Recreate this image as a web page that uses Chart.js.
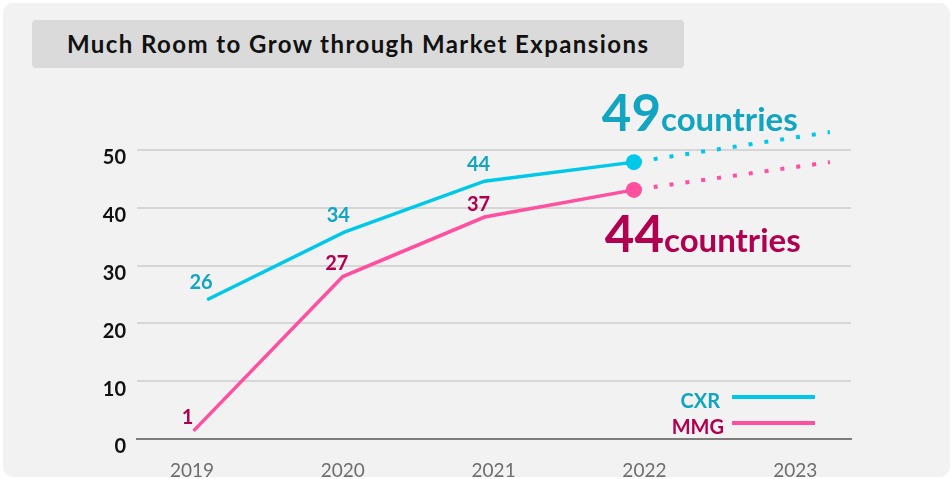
<!DOCTYPE html>
<html>
<head>
<meta charset="utf-8">
<script src="https://cdn.jsdelivr.net/npm/chart.js@4.4.1/dist/chart.umd.min.js"></script>
<style>
  html, body { margin: 0; padding: 0; background: #fff; }
  body { width: 952px; height: 479px; position: relative; overflow: hidden; font-family: Lato, "Open Sans", sans-serif; }
  #panel { position: absolute; left: 3px; top: 3px; width: 947px; height: 474px; background: #f2f2f2; border-radius: 10px; }
  #title { position: absolute; left: 32px; top: 20px; width: 652px; height: 48px; background: #dadada; border-radius: 4px;
           box-sizing: border-box; padding-left: 35px; line-height: 48px; font-weight: bold; font-size: 24px;
           letter-spacing: 1.42px; color: #111; white-space: nowrap; }
  #wrap { position: absolute; left: 0; top: 0; width: 952px; height: 479px; }
</style>
</head>
<body>
<div id="panel"></div>
<div id="title">Much Room to Grow through Market Expansions</div>
<div id="wrap"><canvas id="chart" width="952" height="479"></canvas></div>
<script>
// data
const years = [2019, 2020, 2021, 2022, 2023];
const cxrX = [2019.1, 2020.01, 2020.94, 2021.93];
const cxrY = [24.1, 35.8, 44.6, 47.9];
const mmgX = [2019.01, 2020.0, 2020.94, 2021.93];
const mmgY = [1.4, 28.1, 38.4, 43.1];
const cxrLabels = [26, 34, 44];
const mmgLabels = [1, 27, 37];
const projX = [2021.93, 2023.23];
const cxrProj = [47.9, 53.1];
const mmgProj = [43.1, 47.9];
const cxrTotal = 49;
const mmgTotal = 44;

const CXR_LINE = "#00c8e8";
const CXR_TEXT = "#12a5c1";
const MMG_LINE = "#ff4f9f";
const MMG_TEXT = "#b1004f";
const FONT = "Lato, 'Open Sans', sans-serif";

const toPoints = (xs, ys) => xs.map((x, i) => ({ x, y: ys[i] }));
const lastDot = (ctx) => (ctx.dataIndex === ctx.dataset.data.length - 1 ? 8 : 0);

// value labels above the points + the big "countries" notes + legend
const notesPlugin = {
    id: "notes",
    afterDatasetsDraw(chart) {
        const ctx = chart.ctx;
        const area = chart.chartArea;
        ctx.save();
        ctx.textAlign = "center";
        ctx.textBaseline = "middle";
        ctx.font = "bold 20px " + FONT;
        [[0, cxrLabels, CXR_TEXT, -17], [1, mmgLabels, MMG_TEXT, -13]].forEach(([idx, labels, color, dy]) => {
            const pts = chart.getDatasetMeta(idx).data;
            ctx.fillStyle = color;
            labels.forEach((lab, i) => {
                ctx.fillText(String(lab), pts[i].x - 6, pts[i].y + dy);
            });
        });

        const drawTotal = (num, x, y, color) => {
            ctx.textAlign = "left";
            ctx.textBaseline = "alphabetic";
            ctx.fillStyle = color;
            ctx.font = "bold 51px " + FONT;
            ctx.fillText(String(num), x, y);
            const w = ctx.measureText(String(num)).width;
            ctx.font = "bold 33px " + FONT;
            ctx.fillText("countries", x + w, y);
        };
        const cxrEnd = chart.getDatasetMeta(0).data[cxrX.length - 1];
        const mmgEnd = chart.getDatasetMeta(1).data[mmgX.length - 1];
        drawTotal(cxrTotal, cxrEnd.x - 32, cxrEnd.y - 31, CXR_TEXT);
        drawTotal(mmgTotal, mmgEnd.x - 29, mmgEnd.y + 62, MMG_TEXT);

        // legend
        ctx.font = "bold 20px " + FONT;
        ctx.textAlign = "right";
        ctx.textBaseline = "middle";
        ctx.lineWidth = 4;
        [["CXR", CXR_TEXT, CXR_LINE, area.bottom - 42, 0], ["MMG", MMG_TEXT, MMG_LINE, area.bottom - 16, 4]].forEach(
            ([name, tcol, lcol, ly, shift]) => {
                ctx.fillStyle = tcol;
                ctx.fillText(name, area.right - 131 + shift, ly + 5);
                ctx.strokeStyle = lcol;
                ctx.beginPath();
                ctx.moveTo(area.right - 119, ly);
                ctx.lineTo(area.right - 36, ly);
                ctx.stroke();
            }
        );
        ctx.restore();
    },
};

new Chart(document.getElementById("chart"), {
    type: "line",
    data: {
        datasets: [
            {
                label: "CXR",
                data: toPoints(cxrX, cxrY),
                borderColor: CXR_LINE,
                backgroundColor: CXR_LINE,
                borderWidth: 3.5,
                pointRadius: lastDot,
                pointBorderWidth: 0,
                tension: 0,
                clip: false,
                order: 1,
            },
            {
                label: "MMG",
                data: toPoints(mmgX, mmgY),
                borderColor: MMG_LINE,
                backgroundColor: MMG_LINE,
                borderWidth: 3.5,
                pointRadius: lastDot,
                pointBorderWidth: 0,
                tension: 0,
                clip: false,
                order: 1,
            },
            {
                label: "CXR outlook",
                data: toPoints(projX, cxrProj),
                borderColor: CXR_LINE,
                borderWidth: 4,
                borderDash: [4, 12],
                borderDashOffset: -4,
                borderCapStyle: "butt",
                pointRadius: 0,
                clip: false,
                order: 2,
            },
            {
                label: "MMG outlook",
                data: toPoints(projX, mmgProj),
                borderColor: MMG_LINE,
                borderWidth: 4,
                borderDash: [4, 12],
                borderDashOffset: -4,
                borderCapStyle: "butt",
                pointRadius: 0,
                clip: false,
                order: 2,
            },
        ],
    },
    options: {
        responsive: false,
        animation: false,
        layout: { padding: { top: 150, right: 101, left: 0, bottom: 0 } },
        plugins: {
            legend: { display: false },
            tooltip: { enabled: false },
        },
        scales: {
            x: {
                type: "linear",
                min: 2018.635,
                max: 2023.37,
                afterBuildTicks: (scale) => {
                    scale.ticks = years.map((v) => ({ value: v }));
                },
                afterFit: (scale) => {
                    scale.height = 40;
                },
                grid: { display: false },
                border: { display: true, color: "#7d7d7d", width: 2 },
                ticks: {
                    autoSkip: false,
                    maxRotation: 0,
                    padding: 12,
                    color: "#6e6e6e",
                    font: { family: FONT, size: 19 },
                    callback: (v) => String(v),
                },
            },
            y: {
                min: 0,
                max: 50,
                afterFit: (scale) => {
                    scale.width = 137;
                },
                grid: { color: "#d6d6d6", lineWidth: 2, drawTicks: false },
                border: { display: false },
                ticks: {
                    stepSize: 10,
                    padding: 11,
                    labelOffset: 8,
                    color: "#111",
                    font: { family: FONT, size: 20, weight: "bold" },
                },
            },
        },
    },
    plugins: [notesPlugin],
});
</script>
</body>
</html>
